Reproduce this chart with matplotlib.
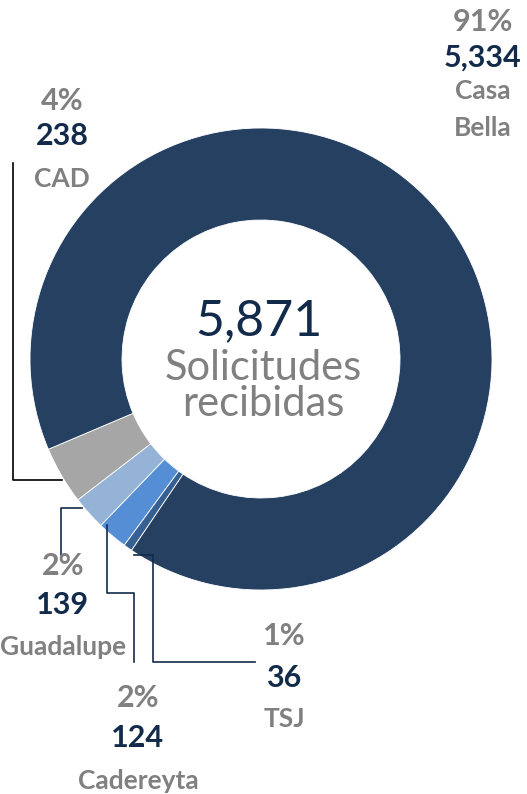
import matplotlib.pyplot as plt

# datos
labels = ["CAD", "Guadalupe", "Cadereyta", "TSJ", "Casa\nBella"]
values = [238, 139, 124, 36, 5334]
colors = ["#A6A6A6", "#95B3D7", "#558ED5", "#376092", "#264061"]
center_title = "Solicitudes\nrecibidas"

total = sum(values)
H = 794


def Y(y):
    # image px (top-down) -> data coords
    return H - y


fig = plt.figure(figsize=(5.27, 7.94), dpi=100)
ax = fig.add_axes([0, 0, 1, 1])

ax.pie(
    values,
    colors=colors,
    startangle=203,
    counterclock=True,
    center=(261, Y(359)),
    radius=231,
    wedgeprops=dict(width=92, edgecolor="white", linewidth=0.6),
)
ax.set_xlim(0, 527)
ax.set_ylim(0, H)
ax.set_aspect("equal")
ax.axis("off")

gray = "#808080"
navy = "#132B4A"
font = "Lato"

# center text
ax.text(259, Y(321), f"{total:,}", ha="center", va="center",
        fontsize=36, color=navy, family=font)
ax.text(263, Y(386), center_title, ha="center", va="center",
        fontsize=30, color=gray, family=font, linespacing=0.92)

# label blocks: x, y of pct, value, name lines
label_pos = [
    (62, 101, 136, 179),
    (63, 566, 605, 647),
    (138, 698, 738, 781),
    (284, 636, 678, 719),
    (483, 22, 58, 91),
]

for lab, v, (x, yp, yv, yn) in zip(labels, values, label_pos):
    ax.text(x, Y(yp), f"{round(v / total * 100)}%", ha="center", va="center",
            fontsize=22, color=gray, family=font, fontweight="bold")
    ax.text(x, Y(yv), f"{v:,}", ha="center", va="center",
            fontsize=22, color=navy, family=font, fontweight="bold")
    for i, line in enumerate(lab.split("\n")):
        ax.text(x, Y(yn + 37 * i), line, ha="center", va="center",
                fontsize=19, color=gray, family=font, fontweight="bold")

# leader lines
leaders = [
    ([62, 13, 13], [480, 480, 163], "black"),
    ([82, 61, 61], [508, 508, 555], navy),
    ([107, 107, 134, 134], [525, 593, 593, 662], navy),
    ([134, 153, 153, 255], [555, 555, 662, 662], navy),
]
for xs, ys, c in leaders:
    ax.plot(xs, [Y(y) for y in ys], color=c, linewidth=1.2)

fig.savefig("out.png", dpi=100)
